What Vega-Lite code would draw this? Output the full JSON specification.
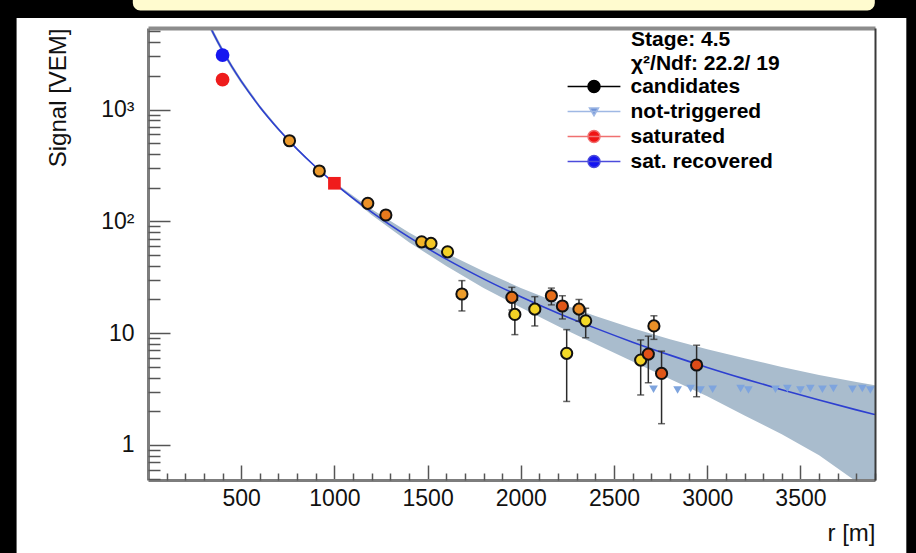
{
  "$schema": "https://vega.github.io/schema/vega-lite/v6.json",
  "width": 727,
  "height": 452,
  "autosize": {"type": "none"},
  "padding": {"left": 148, "top": 28, "right": 41, "bottom": 73},
  "background": "#000000",
  "config": {
    "font": "Liberation Sans",
    "view": {"stroke": null},
    "axis": {
      "zindex": 1,
      "grid": false,
      "labelFont": "Liberation Sans",
      "labelFontSize": 23,
      "labelColor": "#111111",
      "titleFont": "Liberation Sans",
      "titleFontSize": 24,
      "titleFontWeight": "normal",
      "titleColor": "#111111",
      "tickColor": "#555555",
      "tickWidth": 1.5,
      "domainColor": "#7d7d7d",
      "domainWidth": 3,
      "labelOverlap": false,
      "labelFlush": false,
      "labelBound": false
    },
    "legend": {
      "orient": "none", "legendX": 435.5, "legendY": 48, "zindex": 1, "padding": 0,
      "labelFont": "Liberation Sans", "labelFontSize": 21, "labelFontWeight": "bold", "labelColor": "#000000", "labelOffset": 26,
      "symbolSize": 144, "symbolStrokeWidth": 1.5,
      "rowPadding": 3
    }
  },
  "datasets": {
    "ldf": [
      {"r": 330, "s": 5650, "lo": 5283, "hi": 6017},
      {"r": 350, "s": 4830, "lo": 4540, "hi": 5120},
      {"r": 400, "s": 3357, "lo": 3172, "hi": 3542},
      {"r": 450, "s": 2417, "lo": 2296, "hi": 2538},
      {"r": 500, "s": 1793, "lo": 1712, "hi": 1874},
      {"r": 600, "s": 1055, "lo": 1018, "hi": 1092},
      {"r": 700, "s": 666, "lo": 646, "hi": 686},
      {"r": 800, "s": 442, "lo": 433, "hi": 451},
      {"r": 900, "s": 306, "lo": 301.4, "hi": 310.6},
      {"r": 1000, "s": 219, "lo": 214.6, "hi": 223.4},
      {"r": 1200, "s": 121, "lo": 113.7, "hi": 128.3},
      {"r": 1400, "s": 72.3, "lo": 65.1, "hi": 79.5},
      {"r": 1600, "s": 45.9, "lo": 39.9, "hi": 51.9},
      {"r": 1800, "s": 30.6, "lo": 25.4, "hi": 35.8},
      {"r": 2000, "s": 21.2, "lo": 17.0, "hi": 25.4},
      {"r": 2200, "s": 15.1, "lo": 11.5, "hi": 18.7},
      {"r": 2400, "s": 11.09, "lo": 8.0, "hi": 14.2},
      {"r": 2600, "s": 8.31, "lo": 5.57, "hi": 11.05},
      {"r": 2800, "s": 6.36, "lo": 3.88, "hi": 8.84},
      {"r": 3000, "s": 4.94, "lo": 2.72, "hi": 7.16},
      {"r": 3200, "s": 3.9, "lo": 1.83, "hi": 5.97},
      {"r": 3400, "s": 3.12, "lo": 1.25, "hi": 4.99},
      {"r": 3600, "s": 2.52, "lo": 0.81, "hi": 4.23},
      {"r": 3800, "s": 2.06, "lo": 0.47, "hi": 3.65},
      {"r": 3900, "s": 1.87, "lo": 0.32, "hi": 3.42}
    ],
    "stations": [
      {"group": "candidates", "r": 759, "s": 526, "lo": 505, "hi": 547, "timing": 0.5},
      {"group": "candidates", "r": 919, "s": 282, "lo": 268, "hi": 296, "timing": 0.5},
      {"group": "candidates", "r": 1179, "s": 145, "lo": 136, "hi": 154, "timing": 0.55},
      {"group": "candidates", "r": 1276, "s": 114, "lo": 106, "hi": 122, "timing": 0.68},
      {"group": "candidates", "r": 1468, "s": 65.6, "lo": 60.2, "hi": 71.0, "timing": 0.32},
      {"group": "candidates", "r": 1518, "s": 63.5, "lo": 58.2, "hi": 68.8, "timing": 0.18},
      {"group": "candidates", "r": 1607, "s": 53.4, "lo": 48.6, "hi": 58.2, "timing": 0.12},
      {"group": "candidates", "r": 1684, "s": 22.4, "lo": 15.8, "hi": 29.5, "timing": 0.48},
      {"group": "candidates", "r": 1952, "s": 20.9, "lo": 16.1, "hi": 25.7, "timing": 0.72},
      {"group": "candidates", "r": 1968, "s": 14.7, "lo": 9.7, "hi": 19.7, "timing": 0.1},
      {"group": "candidates", "r": 2075, "s": 16.4, "lo": 11.6, "hi": 21.2, "timing": 0.1},
      {"group": "candidates", "r": 2164, "s": 21.6, "lo": 17.9, "hi": 25.3, "timing": 0.74},
      {"group": "candidates", "r": 2223, "s": 17.5, "lo": 13.4, "hi": 21.6, "timing": 0.85},
      {"group": "candidates", "r": 2246, "s": 6.6, "lo": 2.45, "hi": 10.75, "timing": 0.05},
      {"group": "candidates", "r": 2312, "s": 16.4, "lo": 12.8, "hi": 20.0, "timing": 0.58},
      {"group": "candidates", "r": 2348, "s": 12.9, "lo": 9.1, "hi": 16.7, "timing": 0.06},
      {"group": "candidates", "r": 2643, "s": 5.74, "lo": 2.8, "hi": 8.7, "timing": 0.1},
      {"group": "candidates", "r": 2684, "s": 6.5, "lo": 3.6, "hi": 9.4, "timing": 0.88},
      {"group": "candidates", "r": 2714, "s": 11.6, "lo": 8.8, "hi": 14.3, "timing": 0.55},
      {"group": "candidates", "r": 2755, "s": 4.36, "lo": 1.55, "hi": 6.9, "timing": 0.85},
      {"group": "candidates", "r": 2943, "s": 5.19, "lo": 2.7, "hi": 7.8, "timing": 0.9},
      {"group": "saturated", "r": 400, "s": 1850},
      {"group": "sat. recovered", "r": 400, "s": 3070},
      {"group": "not-triggered", "r": 2712, "s": 3.15},
      {"group": "not-triggered", "r": 2841, "s": 3.1},
      {"group": "not-triggered", "r": 2911, "s": 3.2},
      {"group": "not-triggered", "r": 2964, "s": 3.1},
      {"group": "not-triggered", "r": 3029, "s": 3.15},
      {"group": "not-triggered", "r": 3179, "s": 3.2},
      {"group": "not-triggered", "r": 3221, "s": 3.1},
      {"group": "not-triggered", "r": 3366, "s": 3.15},
      {"group": "not-triggered", "r": 3430, "s": 3.2},
      {"group": "not-triggered", "r": 3500, "s": 3.1},
      {"group": "not-triggered", "r": 3553, "s": 3.2},
      {"group": "not-triggered", "r": 3618, "s": 3.15},
      {"group": "not-triggered", "r": 3677, "s": 3.2},
      {"group": "not-triggered", "r": 3779, "s": 3.15},
      {"group": "not-triggered", "r": 3832, "s": 3.2},
      {"group": "not-triggered", "r": 3875, "s": 3.1}
    ],
    "s1000": [{"r": 1000, "s": 219}]
  },
  "layer": [
    {
      "data": {"values": [{}]},
      "mark": {"type": "rect", "fill": "#ffffff"},
      "encoding": {
        "x": {"datum": -705, "type": "quantitative", "scale": {"domain": [0, 3900], "nice": false, "zero": false},
          "axis": {"zindex": 2, "orient": "bottom", "values": [500, 1000, 1500, 2000, 2500, 3000, 3500], "format": "d", "tickSize": -15, "labelPadding": 22,
            "title": "r [m]", "titleX": 727, "titleY": 53, "titleAnchor": "end", "titleAlign": "right", "titleBaseline": "middle"}},
        "x2": {"datum": 4068},
        "y": {"datum": 6581, "type": "quantitative", "scale": {"type": "log", "domain": [0.486, 5360], "nice": false},
          "axis": {"zindex": 2, "orient": "left", "values": [1, 10, 100, 1000], "tickSize": -22, "labelPadding": 36, "labelBaseline": "middle", "labelAlign": "right",
            "labelExpr": "datum.value == 1000 ? '10³' : datum.value == 100 ? '10²' : datum.value == 10 ? '10' : '1'",
            "title": "Signal [VEM]", "titleAngle": -90, "titleX": -90, "titleY": 0, "titleAlign": "right", "titleBaseline": "middle", "titleAnchor": "end"}},
        "y2": {"datum": 0.0934}
      }
    },
    {
      "data": {"values": [{}]},
      "mark": {"type": "rect", "fill": "#fffbcf", "stroke": "#000000", "strokeWidth": 3, "cornerRadius": 9},
      "encoding": {
        "x": {"datum": -89.5, "type": "quantitative", "scale": {"domain": [0, 3900], "nice": false, "zero": false},
          "axis": {"zindex": 2, "orient": "bottom", "values": [100, 200, 300, 400, 600, 700, 800, 900, 1100, 1200, 1300, 1400, 1600, 1700, 1800, 1900, 2100, 2200, 2300, 2400, 2600, 2700, 2800, 2900, 3100, 3200, 3300, 3400, 3600, 3700, 3800, 3900],
            "tickSize": -7, "labels": false, "domain": false, "title": null}},
        "x2": {"datum": 3907},
        "y": {"datum": 7450, "type": "quantitative", "scale": {"type": "log", "domain": [0.486, 5360], "nice": false},
          "axis": {"zindex": 2, "orient": "left", "values": [0.5, 0.6, 0.7, 0.8, 0.9, 2, 3, 4, 5, 6, 7, 8, 9, 20, 30, 40, 50, 60, 70, 80, 90, 200, 300, 400, 500, 600, 700, 800, 900, 2000, 3000, 4000, 5000],
            "tickSize": -12, "labels": false, "domain": false, "title": null}},
        "y2": {"datum": 11720}
      }
    },
    {
      "data": {"name": "ldf"},
      "mark": {"type": "area", "color": "#a9bccd", "opacity": 1, "clip": true},
      "encoding": {
        "x": {"field": "r", "type": "quantitative", "scale": {"domain": [0, 3900], "nice": false, "zero": false},
          "axis": {"zindex": 2, "orient": "top", "ticks": false, "labels": false, "title": null, "domainColor": "#8c8c8c", "domainWidth": 4}},
        "y": {"field": "lo", "type": "quantitative", "scale": {"type": "log", "domain": [0.486, 5360], "nice": false},
          "axis": {"zindex": 2, "orient": "right", "ticks": false, "labels": false, "title": null, "domainColor": "#3a3a3a", "domainWidth": 2}},
        "y2": {"field": "hi"}
      }
    },
    {
      "data": {"name": "ldf"},
      "mark": {"type": "line", "color": "#2d3fd0", "strokeWidth": 1.6, "clip": true, "interpolate": "monotone"},
      "encoding": {
        "x": {"field": "r", "type": "quantitative", "scale": {"domain": [0, 3900], "nice": false, "zero": false}, "axis": null},
        "y": {"field": "s", "type": "quantitative", "scale": {"type": "log", "domain": [0.486, 5360], "nice": false}, "axis": null}
      }
    },
    {
      "data": {"name": "stations"},
      "transform": [{"filter": "datum.group === 'not-triggered'"}],
      "mark": {"type": "point", "shape": "triangle-down", "filled": true, "size": 75, "opacity": 1, "color": "#7ea4de"},
      "encoding": {
        "x": {"field": "r", "type": "quantitative", "scale": {"domain": [0, 3900], "nice": false, "zero": false}, "axis": null},
        "y": {"field": "s", "type": "quantitative", "scale": {"type": "log", "domain": [0.486, 5360], "nice": false}, "axis": null}
      }
    },
    {
      "data": {"name": "stations"},
      "transform": [{"filter": "datum.group === 'candidates'"}],
      "mark": {"type": "errorbar", "ticks": true, "size": 7, "thickness": 1.5, "color": "#2b2b2b"},
      "encoding": {
        "x": {"field": "r", "type": "quantitative", "scale": {"domain": [0, 3900], "nice": false, "zero": false}, "axis": null},
        "y": {"field": "lo", "type": "quantitative", "scale": {"type": "log", "domain": [0.486, 5360], "nice": false}, "axis": null},
        "y2": {"field": "hi"}
      }
    },
    {
      "data": {"name": "stations"},
      "transform": [{"filter": "datum.group === 'candidates'"}],
      "mark": {"type": "point", "shape": "circle", "filled": true, "size": 125, "stroke": "#111111", "strokeWidth": 2, "opacity": 1},
      "encoding": {
        "x": {"field": "r", "type": "quantitative", "scale": {"domain": [0, 3900], "nice": false, "zero": false}, "axis": null},
        "y": {"field": "s", "type": "quantitative", "scale": {"type": "log", "domain": [0.486, 5360], "nice": false}, "axis": null},
        "fill": {"field": "timing", "type": "quantitative", "scale": {"domain": [0, 0.5, 1], "range": ["#f2e12a", "#ec9a2c", "#d9301a"]}, "legend": null}
      }
    },
    {
      "data": {"name": "stations"},
      "transform": [{"filter": "datum.group === 'saturated'"}],
      "mark": {"type": "point", "shape": "circle", "filled": true, "size": 190, "opacity": 1, "color": "#ee1c1c"},
      "encoding": {
        "x": {"field": "r", "type": "quantitative", "scale": {"domain": [0, 3900], "nice": false, "zero": false}, "axis": null},
        "y": {"field": "s", "type": "quantitative", "scale": {"type": "log", "domain": [0.486, 5360], "nice": false}, "axis": null}
      }
    },
    {
      "data": {"name": "stations"},
      "transform": [{"filter": "datum.group === 'sat. recovered'"}],
      "mark": {"type": "point", "shape": "circle", "filled": true, "size": 190, "opacity": 1, "color": "#1616f0"},
      "encoding": {
        "x": {"field": "r", "type": "quantitative", "scale": {"domain": [0, 3900], "nice": false, "zero": false}, "axis": null},
        "y": {"field": "s", "type": "quantitative", "scale": {"type": "log", "domain": [0.486, 5360], "nice": false}, "axis": null}
      }
    },
    {
      "data": {"name": "s1000"},
      "mark": {"type": "point", "shape": "square", "filled": true, "size": 160, "color": "#f01c1c", "opacity": 1},
      "encoding": {
        "x": {"field": "r", "type": "quantitative", "scale": {"domain": [0, 3900], "nice": false, "zero": false}, "axis": null},
        "y": {"field": "s", "type": "quantitative", "scale": {"type": "log", "domain": [0.486, 5360], "nice": false}, "axis": null}
      }
    },
    {
      "data": {"name": "stations"},
      "transform": [{"filter": "false"}],
      "mark": {"type": "point", "filled": true, "opacity": 1, "strokeWidth": 1.5, "size": 144},
      "encoding": {
        "x": {"field": "r", "type": "quantitative", "scale": {"domain": [0, 3900], "nice": false, "zero": false}, "axis": null},
        "y": {"field": "s", "type": "quantitative", "scale": {"type": "log", "domain": [0.486, 5360], "nice": false}, "axis": null},
        "color": {"field": "group", "type": "nominal", "title": null,
          "scale": {"domain": ["candidates", "not-triggered", "saturated", "sat. recovered"], "range": ["#000000", "#6f93d8", "#f01414", "#1414f0"]}},
        "stroke": {"field": "group", "type": "nominal", "title": null,
          "scale": {"domain": ["candidates", "not-triggered", "saturated", "sat. recovered"], "range": ["#000000", "#9fb8e4", "#f07070", "#4b4bdc"]}},
        "shape": {"field": "group", "type": "nominal", "title": null,
          "scale": {"domain": ["candidates", "not-triggered", "saturated", "sat. recovered"],
            "range": ["M-4.4,0H4.4M-1,0A1,1,0,1,0,1,0A1,1,0,1,0,-1,0Z", "M-4.4,0H4.4M-0.75,-0.6H0.75L0,0.7Z", "M-4.4,0H4.4M-1,0A1,1,0,1,0,1,0A1,1,0,1,0,-1,0Z", "M-4.4,0H4.4M-1,0A1,1,0,1,0,1,0A1,1,0,1,0,-1,0Z"]}}
      }
    },
    {
      "data": {"values": [{"header": "Stage: 4.5\nχ²/Ndf: 22.2/ 19"}]},
      "mark": {"type": "text", "align": "left", "baseline": "alphabetic", "lineBreak": "\n", "lineHeight": 24,
        "font": "Liberation Sans", "fontSize": 21, "fontWeight": "bold", "color": "#000000"},
      "encoding": {
        "x": {"datum": 2591, "type": "quantitative", "scale": {"domain": [0, 3900], "nice": false, "zero": false}, "axis": null},
        "y": {"datum": 3738, "type": "quantitative", "scale": {"type": "log", "domain": [0.486, 5360], "nice": false}, "axis": null},
        "text": {"field": "header"}
      }
    }
  ],
  "resolve": {"axis": {"x": "independent", "y": "independent"}}
}
